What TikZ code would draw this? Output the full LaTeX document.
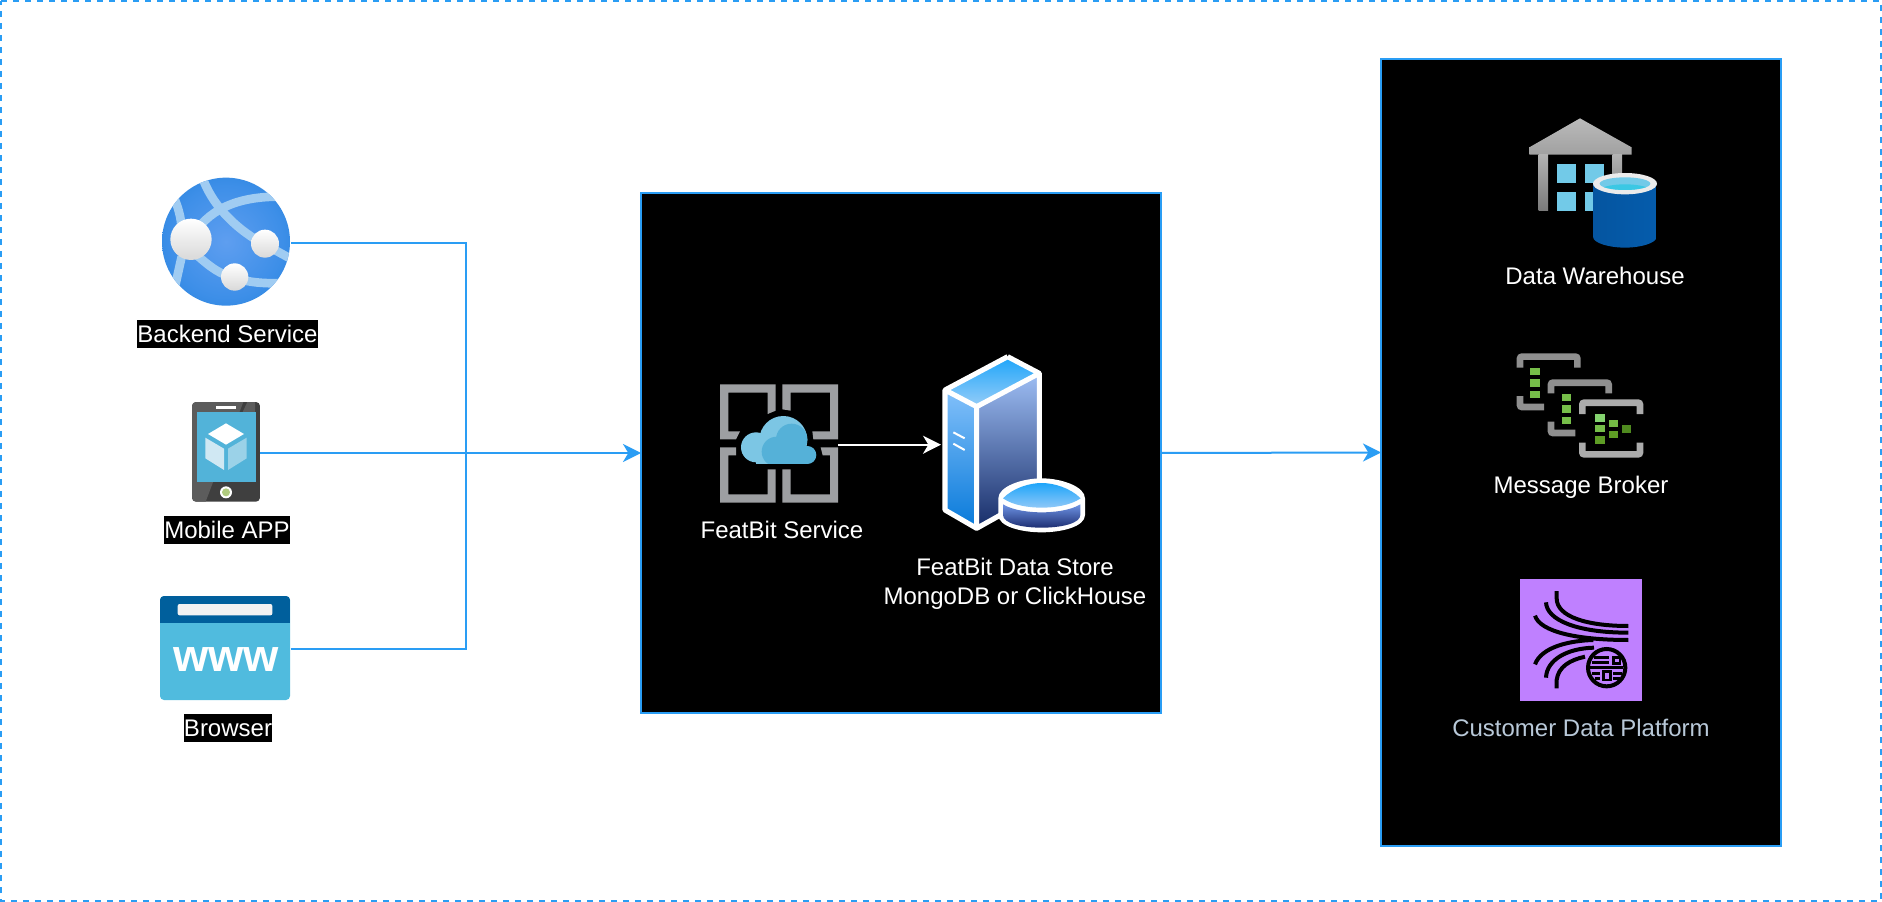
\documentclass[tikz,border=0pt]{standalone}
\usepackage{fontspec}
\setmainfont{Liberation Sans}
\usetikzlibrary{arrows.meta}
\pgfdeclareradialshading{globeshade}{\pgfpointorigin}{rgb(0bp)=(0.37,0.62,0.94); rgb(22bp)=(0.24,0.56,0.91); rgb(50bp)=(0.03,0.45,0.80)}
\definecolor{lineblue}{HTML}{2A9DF4}
\definecolor{iconGray}{HTML}{9D9FA2}
\definecolor{cloudLight}{HTML}{7CC6E4}
\definecolor{cloudDark}{HTML}{55B1D8}
\definecolor{arcBlue}{HTML}{A0CCF2}
\definecolor{phoneDark}{HTML}{3F3F3F}
\definecolor{phoneLight}{HTML}{5C5C5C}
\definecolor{screenBlue}{HTML}{52B3D9}
\definecolor{wwwBlue}{HTML}{50BBDE}
\definecolor{wwwDark}{HTML}{005F9C}
\definecolor{winBlue}{HTML}{72CAE8}
\definecolor{cdpPurple}{HTML}{BF80FF}
\definecolor{cdpLabel}{HTML}{B8C8D8}
\definecolor{cubeLeft}{HTML}{D0E8F3}
\definecolor{cubeRight}{HTML}{9BD2E8}
\definecolor{homeGreen}{HTML}{B0CB7F}
\tikzset{
  zoomat/.style 2 args={shift={(#1,#2)},x=0.25pt,y=-0.25pt},
  wire/.style={draw=lineblue,line width=1.5pt},
  headed/.style={-{Stealth[length=13.5pt,width=13.5pt,inset=4pt]}},
  panel/.style={draw=lineblue,line width=1.5pt,fill=black,inner sep=0pt,outer sep=0pt},
  anchorbox/.style={inner sep=0pt,outer sep=0pt},
  lab/.style={font=\fontsize{18}{21.6}\selectfont,inner sep=0pt,align=center},
  whitelab/.style={lab,text=white},
  blacktag/.style={lab,text=white,fill=black,text height=17pt,text depth=4pt},
  srvedge/.style={draw=white,line width=3.8pt,line join=round},
  brk/.style={line width=5pt,rounded corners=1.5pt,line cap=butt},
}
\begin{document}
\begin{tikzpicture}[x=0.75pt,y=-0.75pt]
\useasboundingbox (0,0) rectangle (1882,902);
\fill[white] (0,0) rectangle (1882,902);
\draw[lineblue,line width=1.5pt,dash pattern=on 4.5pt off 4.5pt] (1,1) -- (1881,1) -- (1881,901) -- (1,901) -- cycle;

% panels
\node[panel,minimum width=390pt,minimum height=390pt] (mid) at (901,453) {};
\node[panel,minimum width=300pt,minimum height=590.25pt] (rightp) at (1581,452.5) {};

% anchors of the icons
\node[anchorbox,minimum width=96.75pt,minimum height=96pt] (backend) at (226.5,243) {};
\node[anchorbox,minimum width=51pt,minimum height=75pt] (mobile) at (226,453) {};
\node[anchorbox,minimum width=98.25pt,minimum height=78pt] (browser) at (225,649) {};
\node[anchorbox,minimum width=88.5pt,minimum height=88.5pt] (fbsvc) at (779,444.7) {};
\node[anchorbox,minimum width=90pt,minimum height=100pt] (dbsrv) at (1001,444.7) {};
\coordinate (bus) at (466,453);

% globe
\begin{scope}[zoomat={140}{160}]
  \begin{scope}
    \clip (258,245) circle (192);
    \path[shading=globeshade] (258,245) circle (192);
    \draw[arcBlue,line width=6.5pt] (190,60) .. controls (225,150) and (300,210) .. (350,240) -- (450,295);
    \draw[arcBlue,line width=6.5pt] (155,235) .. controls (200,150) and (290,110) .. (415,110);
    \draw[arcBlue,line width=6.5pt] (105,120) .. controls (125,170) and (125,200) .. (125,225);
    \draw[arcBlue,line width=6.5pt] (125,290) -- (105,380);
    \draw[arcBlue,line width=6.5pt] (170,285) .. controls (210,320) and (240,345) .. (290,355) .. controls (330,368) and (370,370) .. (420,370);
  \end{scope}
  \shade[top color=white,bottom color=black!15] (153,238) circle (62);
  \shade[top color=white,bottom color=black!15] (375,251) circle (42);
  \shade[top color=white,bottom color=black!15] (284,351) circle (41);
\end{scope}

% phone
\begin{scope}[zoomat={140}{390}]
  \begin{scope}
    \clip[rounded corners=3pt] (156,36) rectangle (360,335);
    \fill[phoneDark] (156,36) rectangle (360,335);
    \fill[phoneLight] (156,36) -- (310,36) -- (197,335) -- (156,335) -- cycle;
    \fill[phoneLight] (322,36) -- (345,36) -- (345,66) -- (308,66) -- cycle;
  \end{scope}
  \fill[screenBlue] (170,66) rectangle (347,277);
  \fill[white] (228,49) rectangle (288,56);
  \fill[white] (258,307) circle (18);
  \fill[homeGreen] (258,307) circle (12);
  \fill[white] (258,100) -- (312,132) -- (258,164) -- (204,132) -- cycle;
  \fill[cubeLeft] (196,143) -- (252,176) -- (252,240) -- (196,205) -- cycle;
  \fill[cubeRight] (264,176) -- (320,143) -- (320,205) -- (264,240) -- cycle;
\end{scope}

% browser
\begin{scope}[zoomat={140}{390}]
  \fill[wwwBlue,rounded corners=3pt] (60,618) rectangle (450,930);
  \begin{scope}
    \clip[rounded corners=3pt] (60,618) rectangle (450,760);
    \fill[wwwDark] (60,618) rectangle (450,700);
  \end{scope}
  \fill[black!5,rounded corners=1.5pt] (113,642) rectangle (397,676);
\end{scope}
\node[anchor=base,inner sep=0pt,text=white,font=\fontsize{34}{36}\selectfont\bfseries] (wwwtxt) at (226,671.5) {www};

% featbit service icon
\begin{scope}[zoomat={700}{340}]
  \fill[iconGray] (60,133) -- (227,133) -- (227,212) -- (203,222) -- (203,158) -- (85,158) -- (85,274) -- (120,274) -- (108,298) -- (60,298) -- cycle;
  \fill[iconGray] (247,133) -- (414,133) -- (414,298) -- (340,298) -- (337,274) -- (390,274) -- (390,158) -- (272,158) -- (272,212) -- (247,208) -- cycle;
  \fill[iconGray] (60,322) -- (108,322) -- (108,346) -- (85,346) -- (85,463) -- (203,463) -- (203,388) -- (227,388) -- (227,488) -- (60,488) -- cycle;
  \fill[iconGray] (247,388) -- (272,388) -- (272,463) -- (390,463) -- (390,346) -- (368,346) -- (362,322) -- (414,322) -- (414,488) -- (247,488) -- cycle;
  \begin{scope}
    \clip (100,200) rectangle (360,371);
    \fill[cloudLight] (168,322) circle (45);
    \fill[cloudLight] (250,300) circle (72);
    \fill[cloudLight] (168,322) rectangle (322,371);
    \fill[cloudDark] (322,345) circle (27);
    \fill[cloudDark] (275,298) circle (47);
    \fill[cloudDark] (230,335) circle (45);
    \fill[cloudDark] (235,320) rectangle (322,371);
  \end{scope}
\end{scope}

% server icon
\begin{scope}[zoomat={930}{345}]
  \shade[top color={rgb,255:red,30;green,165;blue,250},bottom color={rgb,255:red,150;green,205;blue,248}] (233,35) -- (328,85) -- (140,185) -- (45,135) -- cycle;
  \shade[top color={rgb,255:red,130;green,192;blue,250},middle color={rgb,255:red,45;green,140;blue,250},bottom color={rgb,255:red,8;green,122;blue,218}] (45,135) -- (140,185) -- (140,550) -- (45,495) -- cycle;
  \shade[top color={rgb,255:red,158;green,190;blue,244},middle color={rgb,255:red,65;green,100;blue,205},bottom color={rgb,255:red,22;green,44;blue,104}] (140,185) -- (328,85) -- (328,440) -- (140,550) -- cycle;
  \path[srvedge] (233,35) -- (328,85) -- (328,410) (328,85) -- (140,185) -- (45,135) -- (233,35) (45,135) -- (45,495) -- (140,550) -- (215,508) (140,185) -- (140,550);
  \draw[white,line width=1.5pt] (70,262) -- (104,280) (70,296) -- (104,315);
  % disk
  \fill[white] (205,460) .. controls (205,425) and (275,400) .. (335,400) .. controls (395,400) and (465,425) .. (465,460) -- (465,510) .. controls (465,545) and (395,562) .. (335,562) .. controls (275,562) and (205,545) .. (205,510) -- cycle;
  \shade[top color={rgb,255:red,110;green,147;blue,228},bottom color={rgb,255:red,29;green,47;blue,115}] (219,478) .. controls (250,497) and (300,502) .. (335,502) .. controls (370,502) and (420,497) .. (451,478) -- (451,510) .. controls (451,535) and (395,548) .. (335,548) .. controls (275,548) and (219,535) .. (219,510) -- cycle;
  \shade[top color={rgb,255:red,30;green,165;blue,250},bottom color={rgb,255:red,143;green,200;blue,248}] (219,460) .. controls (250,428) and (300,414) .. (335,414) .. controls (370,414) and (420,428) .. (452,460) .. controls (420,482) and (370,488) .. (335,488) .. controls (300,488) and (250,482) .. (219,460) -- cycle;
\end{scope}

% warehouse
\begin{scope}[zoomat={1500}{100}]
  \shade[top color=black!27,bottom color=black!37] (240,55) -- (395,142) -- (395,164) -- (88,164) -- (88,142) -- cycle;
  \shade[top color=black!30,bottom color=black!52] (116,164) rectangle (144,332);
  \shade[top color=black!30,bottom color=black!40] (338,164) rectangle (366,232);
  \fill[winBlue] (171,193) rectangle (227,249);
  \fill[winBlue] (255,193) rectangle (311,249);
  \fill[winBlue] (171,277) rectangle (227,332);
  \fill[winBlue] (255,277) rectangle (290,332);
  \shade[left color={rgb,255:red,5;green,85;blue,160},middle color={rgb,255:red,0;green,122;blue,212},right color={rgb,255:red,5;green,92;blue,172}] (279,251) -- (279,410) .. controls (279,430) and (330,443) .. (375,443) .. controls (420,443) and (470,430) .. (470,410) -- (470,251) -- cycle;
  \fill[black!8] (375,251) ellipse (96 and 32);
  \fill[winBlue] (375,251) ellipse (76 and 19);
  \begin{scope}
    \clip (375,251) ellipse (76 and 19);
    \fill[cloudDark!70!cyan] (375,272) ellipse (76 and 19);
  \end{scope}
\end{scope}

% message broker
\begin{scope}[zoomat={1500}{340}]
  \definecolor{brkA}{HTML}{8F8F8F}
  \definecolor{brkC}{HTML}{ABABAB}
  \draw[brk,brkA] (60,83) -- (60,50) -- (232,50) -- (232,83);
  \draw[brk,brkA] (60,168) -- (60,201) -- (132,201);
  \draw[brk,brkA] (153,160) -- (153,128) -- (326,128) -- (326,160);
  \draw[brk,brkA] (153,245) -- (153,279) -- (226,279);
  \draw[brk,brkC] (247,222) -- (247,188) -- (420,188) -- (420,222);
  \draw[brk,brkC] (247,308) -- (247,343) -- (420,343) -- (420,308);
  \definecolor{grA}{HTML}{76BE49}
  \definecolor{grB}{HTML}{84D36F}
  \definecolor{grC}{HTML}{5E9D25}
  \definecolor{grD}{HTML}{4F8A1F}
  \foreach \yy in {84,118,152} \fill[grA] (91,\yy) rectangle +(28,22);
  \foreach \yy in {162,196,230} \fill[grA] (185,\yy) rectangle +(28,22);
  \fill[grB] (285,222) rectangle (314,245);
  \fill[grA] (286,255) rectangle (314,277);
  \fill[grC] (285,288) rectangle (314,311);
  \fill[grA!90!grC] (326,239) rectangle (354,261);
  \fill[grC] (326,272) rectangle (354,295);
  \fill[grD] (366,256) rectangle (394,278);
\end{scope}

% customer data platform
\begin{scope}[zoomat={1500}{570}]
  \fill[cdpPurple] (60,27) rectangle (426,393);
  \begin{scope}[line width=3pt,black]
    \draw (170,63) -- (170,85) .. controls (170,140) and (260,168) .. (385,168);
    \draw (138,97) .. controls (140,150) and (230,188) .. (385,188);
    \draw (105,137) .. controls (120,185) and (230,210) .. (385,210);
    \draw (105,283) .. controls (125,230) and (210,212) .. (280,210);
    \draw (138,323) .. controls (140,270) and (200,235) .. (282,233);
    \draw (170,355) -- (170,330) .. controls (175,290) and (210,270) .. (255,260);
    \draw (320,293) circle (56);
  \end{scope}
  \begin{scope}[line width=2.2pt,black]
    \draw (340,263) rectangle (360,280);
    \draw (310,305) rectangle (332,330);
    \draw (282,262) -- (328,262);
    \draw (275,278) -- (328,278);
    \draw (270,293) -- (370,293);
    \draw (275,310) -- (300,310);
    \draw (340,310) -- (365,310);
    \draw (285,325) -- (300,325);
    \draw (340,325) -- (360,325);
  \end{scope}
\end{scope}

% labels
\node[blacktag,minimum width=135.75pt] (lbackend) at (227.5,334) {Backend Service};
\node[blacktag,minimum width=94.5pt] (lmobile) at (227,530) {Mobile APP};
\node[blacktag,minimum width=66pt] (lbrowser) at (228,728) {Browser};
\node[whitelab] (lsvc) at (782,530) {FeatBit Service};
\node[whitelab] (ldb) at (1015,584) {FeatBit Data Store\\MongoDB or ClickHouse};
\node[whitelab] (lwh) at (1595,276) {Data Warehouse};
\node[whitelab] (lmb) at (1581,487.5) {Message Broker};
\node[lab,text=cdpLabel] (lcdp) at (1581,728) {Customer Data Platform};

% connectors
\draw[wire] (backend.east) -| (bus);
\draw[wire] (browser.east) -| (bus);
\draw[wire,headed] (mobile.east) -- (mid.west);
\draw[wire,headed] (mid.east) -- (rightp.west);
\draw[draw=white,line width=1.5pt,headed] (fbsvc.east) -- (dbsrv.west);
\end{tikzpicture}
\end{document}
